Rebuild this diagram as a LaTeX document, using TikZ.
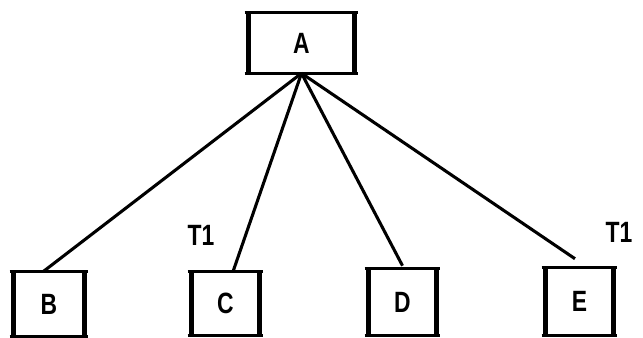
\documentclass[tikz,border=0pt]{standalone}
\usepackage{fontspec}
\newfontfamily\boxfont[FakeStretch=0.78]{Liberation Sans Bold}
\usetikzlibrary{calc}

\begin{document}
\begin{tikzpicture}[x=0.75pt, y=0.75pt,
    unit/.style={inner sep=0pt, font=\boxfont\fontsize{22}{26}\selectfont},
    tag/.style={font=\boxfont\fontsize{22}{26}\selectfont},
    link/.style={line width=2.3pt}]
    \useasboundingbox (0,0) rectangle (643,337);
    \node[unit, minimum width=84.75pt, minimum height=45pt] (A) at (301.5,294) {A};
    \node[unit, minimum width=58.5pt, minimum height=48pt] (B) at (49,33) {B};
    \node[unit, minimum width=56.25pt, minimum height=47.25pt] (C) at (225.5,33.5) {C};
    \node[unit, minimum width=56.25pt, minimum height=49.5pt] (D) at (402.5,35) {D};
    \node[unit, minimum width=56.25pt, minimum height=50.25pt] (E) at (579.5,35.5) {E};
    % edges top/bottom, thick side bars
    \foreach \n in {A,B,C,D,E} {
        \draw[line width=2pt] (\n.north west) -- (\n.north east) (\n.south west) -- (\n.south east);
        \draw[line width=3.5pt] ([xshift=3pt]\n.north west) -- ([xshift=3pt]\n.south west)
            ([xshift=-3pt]\n.north east) -- ([xshift=-3pt]\n.south east);
    }
    \draw[link] (A.south) -- ([xshift=-4.5pt]B.north);
    \draw[link] (A.south) -- ([xshift=5.6pt]C.north);
    \draw[link] (A.south) -- ([yshift=2.25pt]D.north);
    \draw[link] (A.south) -- ([shift={(-3.4pt,6.75pt)}]E.north);
    \node[tag] (tc) at (201,102) {T1};
    \node[tag] (te) at (619,105) {T1};
\end{tikzpicture}
\end{document}
